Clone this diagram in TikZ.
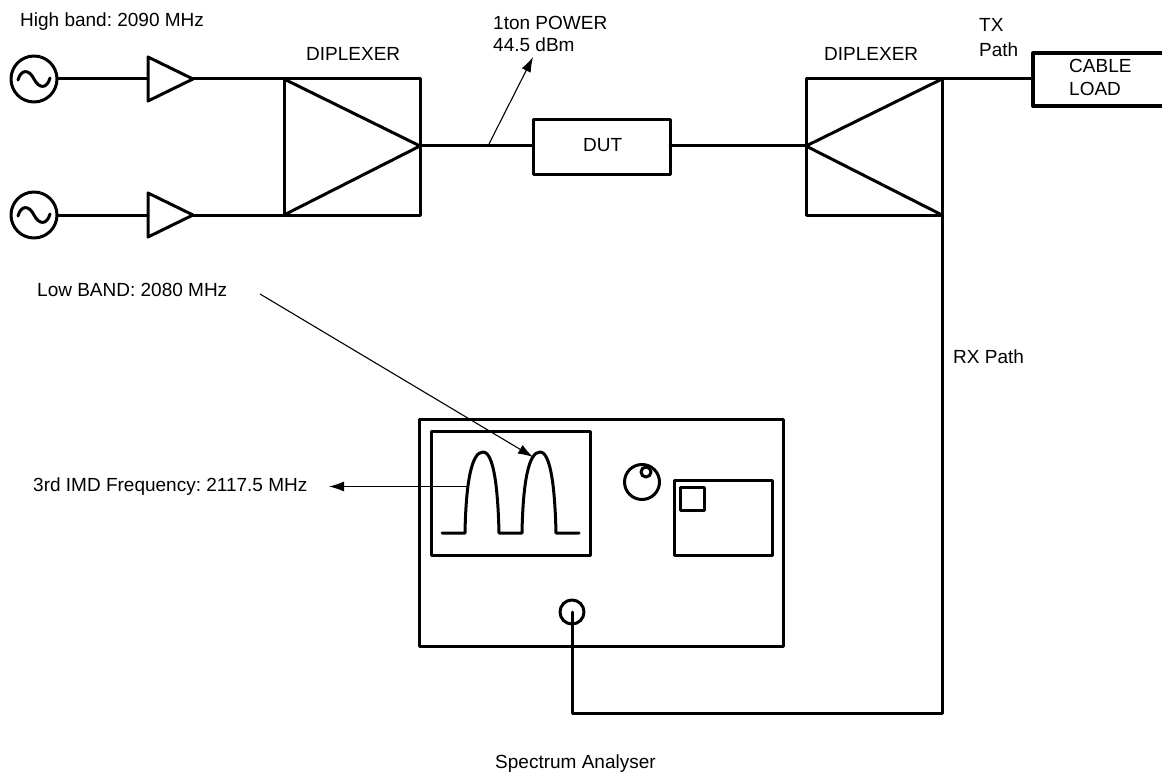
\documentclass[tikz,border=0pt]{standalone}
\usepackage{fontspec}
\setmainfont{Liberation Sans}
\usetikzlibrary{arrows.meta,calc}
\tikzset{
  px/.style={x=1pt,y=-1pt},
  heavy/.style={draw=black,line width=3pt,line join=round,line cap=round},
  thin line/.style={draw=black,line width=1.1pt},
  pointer/.style={thin line,-{Latex[length=15pt,width=10pt]}},
  lbl/.style={inner sep=0pt,anchor=base west,font=\frenchspacing\fontsize{19pt}{24pt}\selectfont,align=left},
  src/.style={heavy,circle,inner sep=0pt,minimum size=46pt},
}
\newcommand{\sinewave}[1]{%
  \draw[heavy] ($(#1.center)+(-16,1)$) .. controls ($(#1.center)+(-13,-10)$) and ($(#1.center)+(-5,-10)$) .. (#1.center) .. controls ($(#1.center)+(5,10)$) and ($(#1.center)+(13,10)$) .. ($(#1.center)+(16,-1)$);}
\begin{document}
\begin{tikzpicture}[px]
\useasboundingbox (0,0) rectangle (1162,773);
% sources
\node[src] (s1) at (34,79) {};
\node[src] (s2) at (34,215) {};
\sinewave{s1}
\sinewave{s2}
% amplifiers
\coordinate (a1in) at (148,79); \coordinate (a1out) at (193,79);
\coordinate (a2in) at (148,215); \coordinate (a2out) at (193,215);
\draw[heavy] (148,57) -- (a1out) -- (148,101) -- cycle;
\draw[heavy] (148,193) -- (a2out) -- (148,237) -- cycle;
% left diplexer
\coordinate (d1tl) at (284,79); \coordinate (d1tr) at (420,79);
\coordinate (d1bl) at (284,215); \coordinate (d1br) at (420,215);
\coordinate (d1tip) at (420,146);
\draw[heavy] (d1tl) -- (d1tr) -- (d1br) -- (d1bl) -- cycle;
\draw[heavy] (d1tl) -- (d1tip) -- (d1bl);
% DUT
\node[heavy,rectangle,inner sep=0pt,minimum width=137pt,minimum height=54pt] (dut) at (601.5,147) {};
\node[lbl] (dutl) at (583,152) {DUT};
% right diplexer
\coordinate (d2tl) at (806,79); \coordinate (d2tr) at (942,79);
\coordinate (d2bl) at (806,215); \coordinate (d2br) at (942,215);
\coordinate (d2tip) at (806,146);
\draw[heavy] (d2tl) -- (d2tr) -- (d2br) -- (d2bl) -- cycle;
\draw[heavy] (d2tr) -- (d2tip) -- (d2br);
% cable load
\coordinate (clin) at (1033,79);
\draw[heavy,line width=4pt] (1172,53) -- (1033,53) -- (1033,106) -- (1172,106);
% connectors
\draw[heavy] (s1.east) -- (a1in);
\draw[heavy] (s2.east) -- (a2in);
\draw[heavy] (a1out) -- (d1tl);
\draw[heavy] (a2out) -- (d1bl);
\coordinate (dutw) at (533,146); \coordinate (dute) at (670,146);
\draw[heavy] (d1tip) -- (dutw);
\draw[heavy] (dute) -- (d2tip);
\draw[heavy] (d2tr) -- (clin);
% analyser
\draw[heavy] (419,419) rectangle (783,646);
\draw[heavy] (431,431) rectangle (590,555);
\draw[heavy] (442,533) -- (465,533)
  .. controls (466,480) and (472,452) .. (483,452)
  .. controls (494,452) and (498,490) .. (499,533)
  -- (522,533)
  .. controls (523,480) and (529,452) .. (540,452)
  .. controls (551,452) and (555,490) .. (556,533)
  -- (579,533);
\node[heavy,circle,inner sep=0pt,minimum size=35pt] (knob) at (642,482) {};
\node[heavy,circle,inner sep=0pt,minimum size=10pt] (knobdot) at (646,472) {};
\draw[heavy] (674,480) rectangle (772,555);
\draw[heavy] (680,487) rectangle (704,510);
\node[heavy,circle,inner sep=0pt,minimum size=24pt] (port) at (572,612) {};
\coordinate (rxc) at (942,713);
\coordinate (portc) at (572,713);
\draw[heavy] (d2br) -- (rxc) -- (portc) -- (port.center);
% pointers
\coordinate (p1a) at (488,146); \coordinate (p1b) at (533,57);
\coordinate (p2a) at (260,294); \coordinate (p2b) at (533,457);
\coordinate (p3a) at (468,486.5); \coordinate (p3b) at (329,486.5);
\draw[pointer] (p1a) -- (p1b);
\draw[pointer] (p2a) -- (p2b);
\draw[pointer] (p3a) -- (p3b);
% labels
\node[lbl] (t1) at (20,27) {High band: 2090 MHz};
\node[lbl] (t2) at (306,61) {DIPLEXER};
\node[lbl] (t3) at (824,61) {DIPLEXER};
\node[lbl] (t4) at (493,30) {1ton POWER};
\node[lbl] (t5) at (493,52) {44.5 dBm};
\node[lbl] (t6) at (979,32) {TX};
\node[lbl] (t7) at (979,57) {Path};
\node[lbl] (t8) at (1069,73) {CABLE};
\node[lbl] (t9) at (1069,96) {LOAD};
\node[lbl] (t10) at (37,296) {Low BAND: 2080 MHz};
\node[lbl] (t11) at (33,491) {3rd IMD Frequency: 2117.5 MHz};
\node[lbl] (t12) at (953,363) {RX Path};
\node[lbl] (t13) at (495,768) {Spectrum Analyser};
\end{tikzpicture}
\end{document}
